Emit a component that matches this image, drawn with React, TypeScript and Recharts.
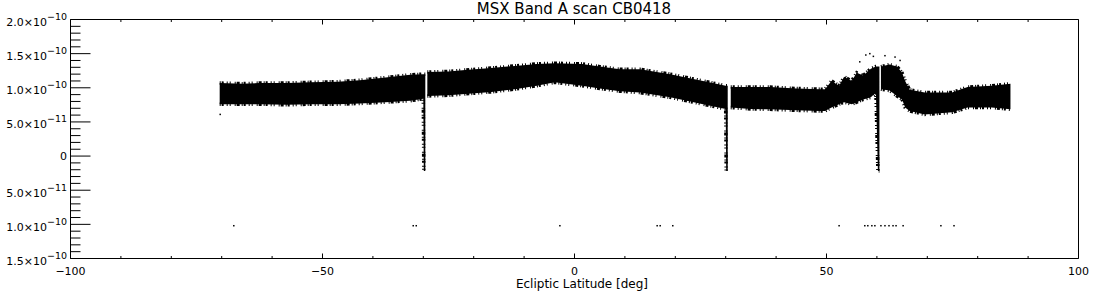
import { ComposedChart, Area, Scatter, XAxis, YAxis } from "recharts";

// band envelope, values in units of 1e-10
const bandLat = [
  -70.4, -66, -62.4, -57, -52.5, -47, -42.6, -37.5, -32.6, -30, -29.9, -29.6, -29.5, -29.2,
  -25, -21.7, -16.5, -11.8, -7.5, -3.9, 1.5, 5, 9, 13, 19, 25.5, 30, 30.1, 30.4, 30.6, 31,
  35, 38.8, 44, 48.7, 49.7, 51, 52.5, 53.5, 55, 56, 57.3, 58.8, 59.8, 60.2, 60.5, 60.6, 60.8,
  62.5, 64, 65, 65.6, 66.5, 69.5, 74.9, 78, 82.8, 86.5,
];
const bandLow: (number | null)[] = [
  0.76, 0.76, 0.76, 0.75, 0.76, 0.76, 0.77, 0.79, 0.81, 0.84, -0.22, -0.22, null, 0.88,
  0.89, 0.91, 0.94, 0.98, 1.03, 1.08, 1.03, 0.99, 0.95, 0.93, 0.86, 0.76, 0.69, -0.22, -0.22, null, 0.71,
  0.69, 0.685, 0.67, 0.66, 0.66, 0.71, 0.76, 0.79, 0.76, 0.79, 0.83, 0.86, 0.93, -0.22, -0.22, null, 0.98,
  0.96, 0.88, 0.83, 0.71, 0.66, 0.61, 0.64, 0.71, 0.71, 0.685,
];
const bandHigh: (number | null)[] = [
  1.07, 1.06, 1.07, 1.07, 1.08, 1.09, 1.11, 1.15, 1.19, 1.2, 1.2, 1.2, null, 1.23,
  1.24, 1.26, 1.29, 1.32, 1.35, 1.36, 1.35, 1.31, 1.27, 1.27, 1.2, 1.1, 1.03, 1.03, 1.03, null, 1.01,
  1.01, 1.01, 0.99, 0.98, 0.98, 1.1, 1.03, 1.16, 1.1, 1.22, 1.18, 1.28, 1.31, 1.31, 1.31, null, 1.31,
  1.34, 1.31, 1.22, 1.1, 0.97, 0.93, 0.93, 1.01, 1.03, 1.06,
];

// isolated samples away from the band
const strayLat = [
  -70.3, -67.6, -32.0, -31.4, -2.9, 16.4, 17.0, 19.5, 52.5, 57.6, 58.2, 59.0, 59.6, 60.8,
  61.6, 62.4, 63.2, 63.8, 65.2, 72.7, 75.3, 56.6, 57.8, 58.6, 59.3, 61.6, 63.6, 64.6,
];
const strayVal = [
  0.61, -1.02, -1.02, -1.02, -1.02, -1.02, -1.02, -1.02, -1.02, -1.02, -1.02, -1.02, -1.02, -1.02,
  -1.02, -1.02, -1.02, -1.02, -1.02, -1.02, -1.02, 1.38, 1.48, 1.5, 1.46, 1.47, 1.45, 1.4,
];

const xTicks = [-100, -90, -80, -70, -60, -50, -40, -30, -20, -10, 0, 10, 20, 30, 40, 50, 60, 70, 80, 90, 100];
const xLabels: Record<number, string> = { "-100": "−100", "-50": "−50", 0: "0", 50: "50", 100: "100" };
const yTicks = Array.from({ length: 36 }, (_, i) => (i - 15) / 10);
const yLabels = [
  { v: 2, m: "2.0×10", e: "−10" },
  { v: 1.5, m: "1.5×10", e: "−10" },
  { v: 1, m: "1.0×10", e: "−10" },
  { v: 0.5, m: "5.0×10", e: "−11" },
  { v: 0, m: "0", e: "" },
  { v: -0.5, m: "5.0×10", e: "−11" },
  { v: -1, m: "1.0×10", e: "−10" },
  { v: -1.5, m: "1.5×10", e: "−10" },
];

const data = bandLat.map((lat, i) => ({
  lat,
  band: bandLow[i] == null ? null : [bandLow[i], bandHigh[i]],
}));
const strays = strayLat.map((lat, i) => ({ lat, v: strayVal[i] }));

const FONT = "'DejaVu Sans', sans-serif";
const isMajorX = (v: number) => v % 50 === 0;
const isMajorY = (v: number) => Math.round(v * 10) % 5 === 0;

const BottomTick = (p: any) => {
  const v = p.payload.value;
  const major = isMajorX(v);
  return (
    <g>
      <line x1={p.x} x2={p.x} y1={p.y} y2={p.y - (major ? 5 : 2.5)} stroke="#000" />
      {major && (
        <text x={p.x} y={p.y + 16} textAnchor="middle" fontSize={11} fontFamily={FONT} fill="#000">
          {xLabels[v]}
        </text>
      )}
    </g>
  );
};

const TopTick = (p: any) => {
  const major = isMajorX(p.payload.value);
  return <line x1={p.x} x2={p.x} y1={p.y} y2={p.y + (major ? 5 : 2.5)} stroke="#000" />;
};

const LeftTick = (p: any) => {
  const v = p.payload.value;
  const major = isMajorY(v);
  const lab = yLabels.find((l) => Math.abs(l.v - v) < 1e-6);
  return (
    <g>
      <line x1={p.x} x2={p.x + (major ? 20 : 10)} y1={p.y} y2={p.y} stroke="#000" />
      {lab && (
        <text x={p.x - 3.5} y={p.y + (lab.e ? 6.5 : 3.5)} textAnchor="end" fontSize={11} fontFamily={FONT} fill="#000">
          <tspan>{lab.m}</tspan>
          {lab.e && (
            <tspan dy={-6} fontSize={9.5}>
              {lab.e}
            </tspan>
          )}
        </text>
      )}
    </g>
  );
};

const RightTick = (p: any) => {
  const major = isMajorY(p.payload.value);
  return <line x1={p.x} x2={p.x - (major ? 20 : 10)} y1={p.y} y2={p.y} stroke="#000" />;
};

const Dot = (p: any) => <rect x={p.cx - 0.75} y={p.cy - 0.75} width={1.5} height={1.5} fill="#000" />;

export default function App() {
  return (
    <div style={{ position: "absolute", left: 0, top: 0, width: 1100, height: 300, background: "#fff", fontFamily: FONT }}>
      <div style={{ position: "absolute", left: 0, width: 1148, top: 0, textAlign: "center", fontSize: 15, color: "#000" }}>
        MSX Band A scan CB0418
      </div>
      <ComposedChart width={1100} height={300} data={data} margin={{ top: 18.5, right: 20.5, bottom: 40.5, left: 69.5 }}>
        <XAxis
          dataKey="lat"
          type="number"
          domain={[-100, 100]}
          ticks={xTicks}
          interval={0}
          height={1}
          tickSize={0}
          tickMargin={0}
          tickLine={false}
          tick={<BottomTick />}
          stroke="#000"
        />
        <XAxis
          xAxisId="top"
          orientation="top"
          dataKey="lat"
          type="number"
          domain={[-100, 100]}
          ticks={xTicks}
          interval={0}
          height={1}
          tickSize={0}
          tickMargin={0}
          tickLine={false}
          tick={<TopTick />}
          stroke="#000"
        />
        <YAxis
          type="number"
          domain={[-1.5, 2]}
          ticks={yTicks}
          interval={0}
          width={1}
          tickSize={0}
          tickMargin={0}
          tickLine={false}
          tick={<LeftTick />}
          stroke="#000"
        />
        <YAxis
          yAxisId="right"
          orientation="right"
          type="number"
          domain={[-1.5, 2]}
          ticks={yTicks}
          interval={0}
          width={1}
          tickSize={0}
          tickMargin={0}
          tickLine={false}
          tick={<RightTick />}
          stroke="#000"
        />
        <Area
          dataKey="band"
          type="linear"
          fill="#000"
          fillOpacity={1}
          stroke="#000"
          strokeWidth={3.5}
          strokeDasharray="1 1 2 3 1 2 1 4 1 1 3 2"
          connectNulls={false}
          isAnimationActive={false}
          dot={false}
          activeDot={false}
        />
        <Scatter data={strays} dataKey="v" shape={<Dot />} isAnimationActive={false} />
      </ComposedChart>
      <div style={{ position: "absolute", left: 0, width: 1164, top: 277, textAlign: "center", fontSize: 12, color: "#000" }}>
        Ecliptic Latitude [deg]
      </div>
    </div>
  );
}
